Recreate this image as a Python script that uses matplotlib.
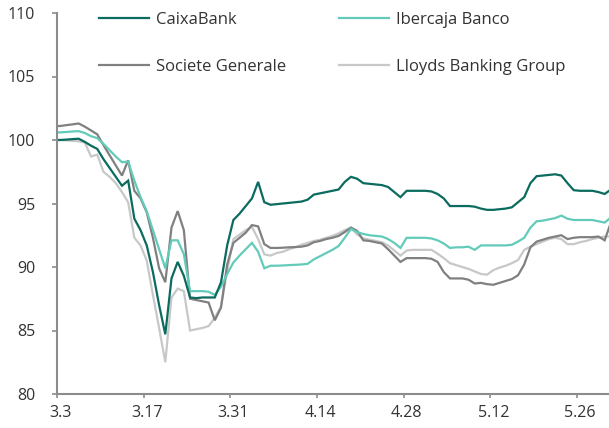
import numpy as np
import pandas as pd
import matplotlib
matplotlib.use('Agg')
import matplotlib.pyplot as plt
import matplotlib.dates as mdates

plt.rcParams['font.family'] = ['Open Sans', 'DejaVu Sans']

# daily prices, 3.2 .. 5.31 (one row per week)
dates = pd.date_range('2020-03-02 12:00', periods=91, freq='D')

caixabank = [
    100.0, 100.0, 100.03, 100.07, 100.1, 99.85, 99.55,
    99.3, 98.5, 97.8, 97.1, 96.4, 96.8, 93.8,
    92.9, 91.7, 89.6, 87.0, 84.7, 89.1, 90.4,
    89.3, 87.6, 87.55, 87.6, 87.6, 87.6, 88.8,
    91.7, 93.7, 94.2, 94.8, 95.4, 96.7, 95.1,
    94.9, 94.95, 95.0, 95.05, 95.1, 95.15, 95.3,
    95.7, 95.8, 95.9, 96.0, 96.1, 96.7, 97.1,
    96.95, 96.6, 96.55, 96.5, 96.45, 96.3, 95.9,
    95.5, 96.0, 96.0, 96.0, 96.0, 95.95, 95.75,
    95.4, 94.8, 94.8, 94.8, 94.8, 94.75, 94.6,
    94.5, 94.5, 94.55, 94.6, 94.7, 95.1, 95.5,
    96.6, 97.15, 97.2, 97.25, 97.3, 97.2, 96.6,
    96.05, 96.0, 96.0, 96.0, 95.9, 95.75, 96.1,
]
ibercaja = [
    100.6, 100.6, 100.63, 100.67, 100.7, 100.55, 100.3,
    100.15, 99.7, 99.2, 98.7, 98.25, 98.3, 96.8,
    95.5, 94.4, 92.9, 91.4, 89.9, 92.1, 92.1,
    91.0, 88.1, 88.1, 88.1, 88.05, 87.8, 88.45,
    89.45, 90.35, 90.9, 91.4, 91.9, 91.2, 89.9,
    90.1, 90.1, 90.12, 90.15, 90.17, 90.2, 90.25,
    90.6, 90.85, 91.1, 91.35, 91.65, 92.3, 93.0,
    92.75, 92.6, 92.5, 92.45, 92.4, 92.2, 91.9,
    91.5, 92.3, 92.3, 92.3, 92.3, 92.25, 92.1,
    91.85, 91.5, 91.55, 91.55, 91.6, 91.35, 91.7,
    91.7, 91.7, 91.7, 91.7, 91.75, 92.0, 92.3,
    93.1, 93.6, 93.65, 93.75, 93.85, 94.05, 93.8,
    93.7, 93.7, 93.7, 93.7, 93.6, 93.5, 93.9,
]
socgen = [
    101.1, 101.1, 101.17, 101.23, 101.3, 101.05, 100.75,
    100.45, 99.6, 98.8, 98.0, 97.2, 98.4, 96.0,
    95.4, 94.3, 92.3, 89.9, 88.8, 93.1, 94.4,
    92.9, 87.5, 87.4, 87.3, 87.2, 85.8, 86.8,
    90.2, 91.9, 92.3, 92.7, 93.3, 93.2, 91.8,
    91.5, 91.5, 91.52, 91.55, 91.57, 91.6, 91.7,
    91.95, 92.05, 92.2, 92.3, 92.45, 92.75, 93.1,
    92.85, 92.1, 92.05, 91.95, 91.85, 91.4, 90.9,
    90.4, 90.7, 90.7, 90.7, 90.7, 90.65, 90.4,
    89.6, 89.1, 89.1, 89.1, 89.0, 88.7, 88.75,
    88.65, 88.6, 88.75, 88.9, 89.05, 89.35, 90.2,
    91.55, 92.0, 92.15, 92.3, 92.4, 92.5, 92.2,
    92.3, 92.35, 92.35, 92.35, 92.4, 92.1, 93.5,
]
lloyds = [
    100.0, 100.0, 99.97, 99.93, 99.9, 99.8, 98.7,
    98.85, 97.5, 97.1, 96.6, 95.9, 95.1, 92.3,
    91.7, 90.5, 87.8, 85.2, 82.5, 87.6, 88.3,
    88.1, 85.0, 85.1, 85.2, 85.35, 86.0, 86.9,
    89.7, 92.2, 92.55, 92.9, 93.15, 92.2, 91.0,
    90.9, 91.1, 91.2, 91.4, 91.55, 91.75, 91.9,
    92.05, 92.15, 92.3, 92.45, 92.65, 92.9, 93.1,
    92.55, 92.25, 92.15, 92.05, 91.95, 91.7, 91.3,
    90.9, 91.3, 91.35, 91.35, 91.35, 91.35, 91.05,
    90.7, 90.3, 90.15, 90.0, 89.85, 89.65, 89.45,
    89.4, 89.75, 89.95, 90.1, 90.3, 90.55, 91.35,
    91.6, 91.8, 92.0, 92.2, 92.3, 92.2, 91.8,
    91.8, 91.95, 92.05, 92.2, 92.3, 92.4, 92.4,
]

names = ['CaixaBank', 'Ibercaja Banco', 'Societe Generale', 'Lloyds Banking Group']
colors = ['#0a6b5e', '#62cbb9', '#808080', '#c8c8c8']
values = [caixabank, ibercaja, socgen, lloyds]

tick_dates = pd.date_range('2020-03-03', '2020-05-26', freq='14D')
tick_labels = [f'{d.month}.{d.day}' for d in tick_dates]

fig = plt.figure(figsize=(6.09, 4.28), dpi=100)
ax = fig.add_axes([57/609, 34/428, 552/609, 381/428])

lines = {}
# draw light lines first so CaixaBank sits on top
for name, col, vals in list(zip(names, colors, values))[::-1]:
    lines[name], = ax.plot(mdates.date2num(dates.to_pydatetime()), vals,
                           color=col, lw=1.6, label=name, solid_joinstyle='miter')

x0 = mdates.date2num(pd.Timestamp('2020-03-03').to_pydatetime())
ax.set_xlim(x0, x0 + 89.2)
ax.set_ylim(80, 110)
ax.set_yticks(np.arange(80, 111, 5))

major = mdates.date2num(tick_dates.to_pydatetime())
ax.set_xticks(major)
ax.set_xticklabels([])
ax.set_xticks(major + 0.5, minor=True)
ax.set_xticklabels(tick_labels, minor=True)

for s in ['top', 'right']:
    ax.spines[s].set_visible(False)
for s in ['left', 'bottom']:
    ax.spines[s].set_color('#8c8c8c')
    ax.spines[s].set_linewidth(1.5)

ax.tick_params(axis='y', length=3.6, width=1.2, color='#8c8c8c', pad=12,
               labelsize=11.5, labelcolor='#333333')
ax.tick_params(axis='x', which='major', length=3, width=1.2, color='#8c8c8c')
ax.tick_params(axis='x', which='minor', length=0, pad=8,
               labelsize=11.5, labelcolor='#333333')

# legend filled column by column -> order so rows read Caixa/Ibercaja, SocGen/Lloyds
order = ['CaixaBank', 'Societe Generale', 'Ibercaja Banco', 'Lloyds Banking Group']
ax.legend([lines[n] for n in order], order, ncol=2, frameon=False,
          loc='upper left', bbox_to_anchor=(99/609, 1 - 12/428),
          bbox_transform=fig.transFigure, borderaxespad=0, borderpad=0,
          fontsize=12, handlelength=3.0, handletextpad=0.4,
          labelspacing=1.85, columnspacing=3.2, labelcolor='#333333')

fig.savefig('out.png', dpi=100)
